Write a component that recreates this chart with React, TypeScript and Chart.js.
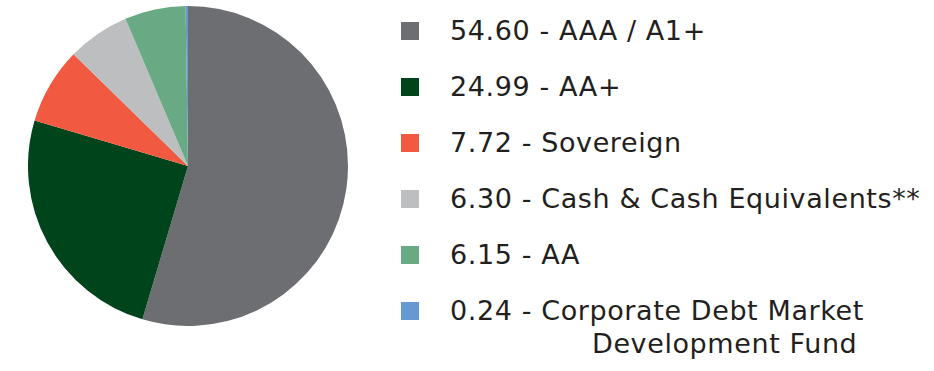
import React, { useEffect, useRef } from "react";
import { Chart, registerables } from "chart.js";

Chart.register(...registerables);

const categories: string[][] = [
  ["AAA / A1+"],
  ["AA+"],
  ["Sovereign"],
  ["Cash & Cash Equivalents**"],
  ["AA"],
  ["Corporate Debt Market", "Development Fund"],
];
const values: number[] = [54.6, 24.99, 7.72, 6.3, 6.15, 0.24];
const colors: string[] = ["#6d6e71", "#00441b", "#f15a40", "#bcbec0", "#69a983", "#6699d1"];

const FONT = "'DejaVu Sans', sans-serif";

export default function App() {
  const ref = useRef<HTMLCanvasElement | null>(null);
  useEffect(() => {
    if (!ref.current) return;
    const chart = new Chart(ref.current, {
      type: "pie",
      data: {
        labels: categories.map((c) => c.join(" ")),
        datasets: [
          {
            data: values,
            backgroundColor: colors,
            borderWidth: 0,
          },
        ],
      },
      options: {
        animation: false,
        responsive: false,
        maintainAspectRatio: false,
        layout: { padding: 0 },
        plugins: { legend: { display: false }, tooltip: { enabled: false } },
      },
    });
    return () => chart.destroy();
  }, []);

  const rowTop = 31;
  const rowGap = 56;
  return (
    <div style={{ position: "fixed", left: 0, top: 0, width: 934, height: 371, background: "#fff", overflow: "hidden" }}>
      <canvas ref={ref} width={320} height={320} style={{ position: "absolute", left: 28, top: 6, width: 320, height: 320 }} />
      {values.map((v, i) => {
        const cy = rowTop + i * rowGap;
        const lines = categories[i];
        return (
          <React.Fragment key={i}>
            <div style={{ position: "absolute", left: 401, top: cy - 9, width: 18, height: 18, background: colors[i] }} />
            {lines.map((ln, j) => (
              <div
                key={j}
                style={{
                  position: "absolute",
                  left: j === 0 ? 450 : 592,
                  top: cy - 20 + j * 33,
                  height: 40,
                  lineHeight: "40px",
                  fontFamily: FONT,
                  fontSize: 27,
                  letterSpacing: "0.6px",
                  color: "#231f20",
                  whiteSpace: "nowrap",
                }}
              >
                {j === 0 ? `${v.toFixed(2)} - ${ln}` : ln}
              </div>
            ))}
          </React.Fragment>
        );
      })}
    </div>
  );
}
